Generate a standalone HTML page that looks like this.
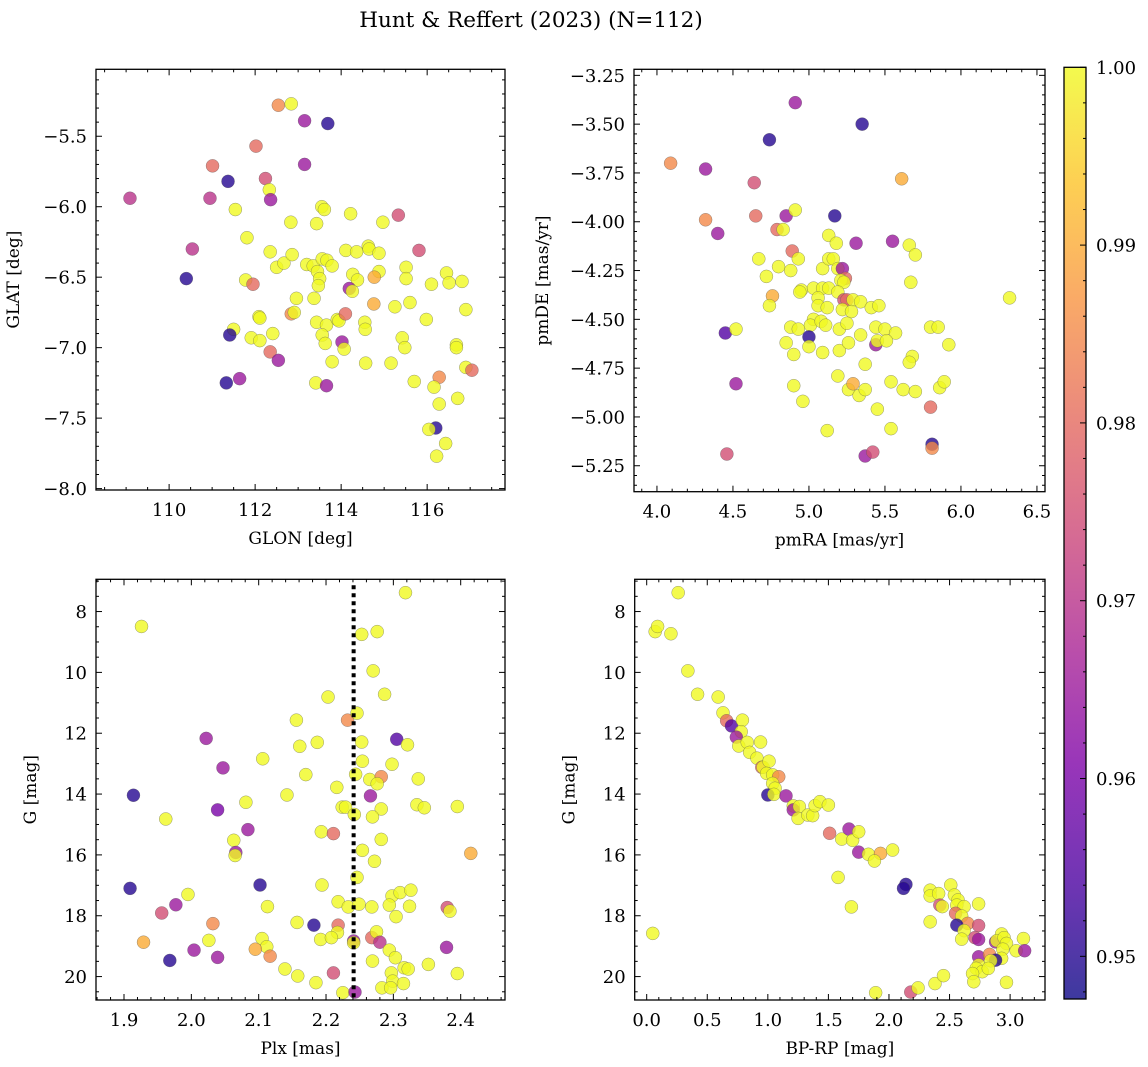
<!DOCTYPE html>
<html><head><meta charset="utf-8">
<style>
html,body{margin:0;padding:0;background:#fff;}
svg{display:block;font-family:"DejaVu Serif","Liberation Serif",serif;}
</style></head>
<body>
<svg id="fig" width="1148" height="1067" viewBox="0 0 1148 1067">
<text x="531" y="27" font-size="21.5" text-anchor="middle">Hunt &amp; Reffert (2023) (N=112)</text>
</svg>
<script>
// ---- Panel 1: GLON vs GLAT ----
const glon = [109.09,110.40,110.54,111.01,111.37,110.95,111.54,112.02,112.24,112.33,112.36,112.54,112.84,113.15,113.69,113.15,111.81,112.35,112.50,112.67,112.86,112.83,113.43,113.55,113.61,114.22,114.97,115.33,115.81,114.11,114.36,114.63,114.65,114.88,113.20,113.35,113.45,113.50,113.47,113.56,113.67,113.79,114.27,114.38,114.88,114.77,115.51,115.51,116.10,116.45,116.51,116.81,111.78,111.95,112.96,113.37,114.19,114.26,114.76,115.25,115.60,116.90,112.84,112.91,112.09,112.11,113.43,113.66,113.91,113.95,114.10,114.55,114.56,115.98,111.50,111.41,111.91,112.11,112.41,113.56,113.63,114.02,114.07,115.42,115.48,116.68,116.68,112.35,112.54,113.79,114.57,115.16,116.90,117.04,111.33,111.64,113.41,113.66,115.70,116.28,116.16,116.28,116.71,116.20,116.04,116.43,116.22];
const glat = [-5.94,-6.51,-6.30,-5.71,-5.82,-5.94,-6.02,-5.57,-5.80,-5.88,-5.95,-5.28,-5.27,-5.39,-5.41,-5.70,-6.22,-6.32,-6.43,-6.40,-6.34,-6.11,-6.12,-6.00,-6.02,-6.05,-6.11,-6.06,-6.31,-6.31,-6.32,-6.28,-6.30,-6.33,-6.41,-6.42,-6.46,-6.51,-6.56,-6.37,-6.38,-6.42,-6.48,-6.52,-6.46,-6.50,-6.43,-6.51,-6.55,-6.47,-6.54,-6.53,-6.52,-6.55,-6.65,-6.65,-6.58,-6.60,-6.69,-6.71,-6.68,-6.73,-6.76,-6.75,-6.78,-6.79,-6.82,-6.84,-6.80,-6.81,-6.76,-6.82,-6.87,-6.80,-6.87,-6.91,-6.93,-6.95,-6.90,-6.91,-6.97,-6.96,-7.01,-6.93,-7.00,-6.98,-7.00,-7.03,-7.09,-7.10,-7.11,-7.11,-7.14,-7.16,-7.25,-7.22,-7.25,-7.27,-7.24,-7.21,-7.28,-7.40,-7.36,-7.57,-7.58,-7.68,-7.77];
const prob1 = [.97,.95,.97,.98,.95,.97,1,.98,.975,1,.965,.985,1,.965,.95,.965,1,1,1,1,1,1,1,1,1,1,1,.975,.975,1,1,1,1,1,1,1,1,1,1,1,1,1,1,1,1,.99,1,1,1,1,1,1,1,.98,1,1,.965,1,.99,1,1,1,.985,1,1,1,1,1,1,1,.98,1,1,1,1,.95,1,1,1,1,1,.965,1,1,1,1,1,.98,.965,1,1,1,1,.98,.95,.965,1,.965,1,.985,1,1,1,.95,1,1,1];

// ---- Panel 2: pmRA vs pmDE ----
const pmra = [4.09,4.32,4.32,4.40,4.64,4.65,4.74,4.91,5.35,4.85,4.91,4.79,4.83,5.17,5.13,5.18,5.31,5.55,5.66,5.70,5.61,4.89,4.93,4.67,4.80,4.88,4.72,5.09,5.13,5.16,5.19,5.22,5.24,5.21,5.23,5.67,6.32,4.95,4.94,5.03,5.09,5.13,5.19,5.06,4.76,4.74,5.06,5.12,5.23,5.25,5.29,5.22,5.28,5.34,5.41,5.46,5.03,5.01,5.08,5.11,4.88,4.93,5.00,5.20,5.25,4.45,4.52,4.85,4.90,5.00,5.09,5.20,5.26,5.34,5.44,5.50,5.57,5.44,5.45,5.51,5.80,5.85,5.92,5.37,5.68,5.66,4.52,4.90,4.96,5.19,5.26,5.29,5.33,5.37,5.54,5.62,5.70,5.86,5.89,5.45,5.80,5.12,5.54,4.46,5.37,5.42,5.81,5.81];
const pmde = [-3.70,-3.73,-3.99,-4.06,-3.80,-3.97,-3.58,-3.39,-3.50,-3.97,-3.94,-4.04,-4.04,-3.97,-4.07,-4.11,-4.11,-4.10,-4.12,-4.17,-3.78,-4.15,-4.19,-4.19,-4.23,-4.25,-4.28,-4.24,-4.19,-4.19,-4.24,-4.24,-4.29,-4.30,-4.31,-4.31,-4.39,-4.35,-4.36,-4.34,-4.34,-4.34,-4.36,-4.39,-4.38,-4.43,-4.43,-4.44,-4.40,-4.40,-4.40,-4.45,-4.46,-4.41,-4.44,-4.43,-4.50,-4.53,-4.51,-4.53,-4.54,-4.55,-4.59,-4.55,-4.52,-4.57,-4.55,-4.62,-4.68,-4.64,-4.67,-4.66,-4.62,-4.58,-4.54,-4.55,-4.57,-4.63,-4.61,-4.61,-4.54,-4.54,-4.63,-4.73,-4.69,-4.72,-4.83,-4.84,-4.92,-4.79,-4.86,-4.83,-4.89,-4.86,-4.82,-4.86,-4.87,-4.85,-4.82,-4.96,-4.95,-5.07,-5.06,-5.19,-5.20,-5.18,-5.14,-5.16];
const prob2 = [.985,.965,.985,.965,.975,.98,.95,.965,.95,.965,1,.98,1,.95,1,1,.965,.965,1,1,.99,.98,1,1,1,1,1,1,1,1,1,.965,.98,1,1,1,1,1,1,1,1,1,1,1,.99,1,1,1,.975,.98,1,1,1,1,1,1,1,1,1,1,1,1,.95,1,1,.955,1,1,1,1,1,1,1,1,1,1,1,.965,1,1,1,1,1,1,1,1,.965,1,1,1,1,.99,1,1,1,1,1,1,1,1,.98,1,1,.975,.965,.975,.95,.985];

// ---- Panel 3: Plx vs G ----
const plx = [1.926,1.914,1.962,1.909,1.956,1.977,1.995,1.929,1.968,2.004,2.022,2.047,2.039,2.084,2.081,2.063,2.066,2.065,2.032,2.026,2.039,2.106,2.102,2.113,2.105,2.112,2.095,2.117,2.142,2.139,2.156,2.161,2.170,2.157,2.158,2.187,2.193,2.194,2.182,2.192,2.185,2.203,2.216,2.211,2.218,2.218,2.217,2.208,2.211,2.225,2.232,2.224,2.229,2.233,2.241,2.241,2.243,2.246,2.253,2.253,2.254,2.244,2.242,2.254,2.246,2.249,2.276,2.270,2.287,2.265,2.282,2.276,2.266,2.282,2.269,2.282,2.272,2.268,2.268,2.275,2.280,2.269,2.283,2.305,2.321,2.298,2.337,2.318,2.335,2.346,2.298,2.310,2.326,2.294,2.324,2.304,2.294,2.303,2.316,2.322,2.297,2.299,2.296,2.315,2.352,2.395,2.380,2.384,2.379,2.395,2.415];
const gmag3 = [8.49,14.04,14.82,17.10,17.91,17.64,17.30,18.87,19.47,19.13,12.17,13.14,14.52,15.17,14.27,15.52,15.92,16.02,18.26,18.81,19.37,12.84,16.99,17.70,18.75,19.02,19.10,19.33,14.03,19.75,11.57,12.43,13.36,18.22,19.98,12.30,15.24,16.99,18.31,18.78,20.20,10.81,13.78,15.30,17.54,18.31,18.55,18.72,19.88,20.53,11.57,14.43,14.43,17.71,18.83,18.89,20.51,11.34,8.75,12.29,12.92,13.35,14.67,15.85,16.74,17.62,8.66,9.95,10.72,13.52,13.43,13.66,14.06,14.49,14.75,15.49,16.21,17.71,18.72,18.53,18.87,19.49,20.37,12.20,12.38,13.02,13.50,7.38,14.35,14.45,17.35,17.24,17.16,17.65,17.69,18.03,19.13,19.38,19.71,19.75,19.88,20.15,20.37,20.23,19.60,14.41,17.73,17.85,19.04,19.90,15.95];
const prob3 = [1,.95,1,.95,.975,.965,1,.99,.95,.965,.965,.965,.96,.965,1,1,.965,1,.985,1,.965,1,.95,1,1,1,.99,.985,1,1,1,1,1,1,1,1,1,1,.95,1,1,1,1,.98,1,.98,1,1,.975,1,.985,1,1,1,.965,1,.965,1,1,1,1,1,1,1,1,1,1,1,1,1,.985,1,.965,1,1,1,1,1,.98,1,.97,1,1,.955,1,1,1,1,1,1,1,1,1,1,1,1,1,1,1,1,1,1,1,1,1,1,.975,1,.965,1,.99];
const plxCut = [2.241];

// ---- Panel 4: BP-RP vs G ----
const bprp = [0.05,0.07,0.09,0.20,0.26,0.34,0.42,0.59,0.63,0.66,0.70,0.79,0.78,0.74,0.76,0.83,0.85,0.94,0.91,0.95,0.96,1.01,0.99,1.04,1.09,1.04,1.06,1.00,1.05,1.15,1.21,1.21,1.26,1.25,1.33,1.37,1.39,1.43,1.50,1.51,1.61,1.67,1.70,1.75,1.75,1.83,1.93,1.88,2.03,1.58,1.69,1.89,2.14,2.12,2.18,2.24,2.38,2.45,2.34,2.34,2.41,2.42,2.44,2.34,2.51,2.54,2.57,2.56,2.62,2.55,2.60,2.65,2.56,2.62,2.74,2.74,2.60,2.71,2.74,2.74,2.83,2.88,2.93,2.89,2.95,2.97,2.94,2.93,2.88,2.84,2.74,2.72,2.77,2.69,2.82,2.70,2.97,3.05,3.11,3.12];
const gmag4 = [18.58,8.66,8.49,8.73,7.38,9.95,10.72,10.81,11.33,11.59,11.76,11.57,11.95,12.13,12.42,12.30,12.63,12.29,12.82,13.12,13.12,12.92,13.32,13.37,13.43,13.65,13.81,14.03,14.01,14.06,14.39,14.52,14.41,14.80,14.69,14.71,14.38,14.25,14.36,15.29,15.48,15.15,15.52,15.24,15.91,15.98,15.95,16.20,15.84,16.74,17.71,20.53,16.97,17.10,20.51,20.37,20.23,19.97,17.16,17.35,17.27,17.65,17.70,18.20,16.99,17.32,17.48,17.65,17.70,17.92,18.01,18.25,18.31,18.49,17.61,18.32,18.77,18.72,18.78,19.35,19.27,18.86,18.60,18.82,18.72,18.91,19.10,19.40,19.46,19.48,19.62,19.73,19.84,19.90,19.73,20.17,20.19,19.15,18.75,19.15];
const prob4 = [1,1,1,1,1,1,1,1,1,.98,.955,1,1,.965,1,1,1,1,1,.98,1,1,1,1,.985,1,1,.95,1,.965,1,.965,1,1,1,1,1,1,1,.98,1,.965,1,1,.965,1,.99,1,1,1,1,1,.95,.95,.975,1,1,1,1,1,1,.975,1,1,1,1,1,1,1,.98,1,.985,.95,1,1,.975,1,.975,.965,.965,.985,.965,1,1,1,1,1,1,.95,1,1,1,1,1,1,1,1,1,1,.965];

// ---- Colorbar ----
const cbTicks = [0.95,0.96,0.97,0.98,0.99,1.00];
const cbMin = 0.9476, cbMax = 1.0;

const NS = "http://www.w3.org/2000/svg";
const svg = document.getElementById('fig');
function mk(tag, attrs, parent){
  const e = document.createElementNS(NS, tag);
  for (const k in attrs) e.setAttribute(k, attrs[k]);
  (parent||svg).appendChild(e);
  return e;
}
const stops = [[13,8,135],[76,2,161],[126,3,168],[169,35,149],[204,71,120],[229,107,93],[248,148,65],[253,195,40],[240,249,33]];
function plasma(t){
  t = Math.max(0, Math.min(1, t));
  const p = t*(stops.length-1), i = Math.min(stops.length-2, Math.floor(p)), f = p - i;
  const a = stops[i], b = stops[i+1];
  return `rgb(${Math.round(a[0]+(b[0]-a[0])*f)},${Math.round(a[1]+(b[1]-a[1])*f)},${Math.round(a[2]+(b[2]-a[2])*f)})`;
}
function fmt(v, d){ return v.toFixed(d).replace('-', '\u2212'); }

function panel(o){
  const g = mk('g', {});
  
  
  const sx = v => o.L + (v - o.x0)/(o.x1 - o.x0)*(o.R - o.L);
  const sy = v => o.T + (v - o.y0)/(o.y1 - o.y0)*(o.B - o.T);
  const clip = mk('clipPath', {id: 'clip-' + o.name}, g);
  mk('rect', {x:o.L, y:o.T, width:o.R-o.L, height:o.B-o.T}, clip);
  const pts = mk('g', {'clip-path': `url(#clip-${o.name})`}, g);
  for (let i = 0; i < o.xs.length; i++){
    const c = mk('circle', {cx:sx(o.xs[i]), cy:sy(o.ys[i]), r:6.5, fill:plasma((o.cs[i]-cbMin)/(cbMax-cbMin)), 'fill-opacity':0.8, stroke:'#555', 'stroke-opacity':0.6, 'stroke-width':0.5}, pts);
    
    
  }
  if (o.vline){
    const l = mk('line', {x1:sx(o.vline[0]), x2:sx(o.vline[0]), y1:o.T+6, y2:o.B, stroke:'#000', 'stroke-width':4, 'stroke-dasharray':'4,4'}, g);
    
    
  }
  const tg = mk('g', {stroke:'#000', 'stroke-width':1}, g);
  const lo = (a,b)=>Math.min(a,b), hi=(a,b)=>Math.max(a,b);
  for (let v = Math.ceil(lo(o.x0,o.x1)/o.xmin)*o.xmin; v <= hi(o.x0,o.x1)+1e-9; v += o.xmin){
    const major = Math.abs(v/o.xmaj - Math.round(v/o.xmaj)) < 1e-6;
    const len = major ? 6 : 3, x = sx(v);
    mk('line', {x1:x, x2:x, y1:o.B, y2:o.B-len}, tg);
    mk('line', {x1:x, x2:x, y1:o.T, y2:o.T+len}, tg);
    if (major){
      const t = mk('text', {x:x, y:o.B+26, 'font-size':18, 'text-anchor':'middle', stroke:'none'}, g);
      t.textContent = fmt(v, o.xd);
      
      
    }
  }
  for (let v = Math.ceil(lo(o.y0,o.y1)/o.ymin)*o.ymin; v <= hi(o.y0,o.y1)+1e-9; v += o.ymin){
    const major = Math.abs(v/o.ymaj - Math.round(v/o.ymaj)) < 1e-6;
    const len = major ? 6 : 3, y = sy(v);
    mk('line', {x1:o.L, x2:o.L+len, y1:y, y2:y}, tg);
    mk('line', {x1:o.R, x2:o.R-len, y1:y, y2:y}, tg);
    if (major){
      const t = mk('text', {x:o.L-9, y:y+6.5, 'font-size':18, 'text-anchor':'end', stroke:'none'}, g);
      t.textContent = fmt(v, o.yd);
      
      
    }
  }
  mk('rect', {x:o.L, y:o.T, width:o.R-o.L, height:o.B-o.T, fill:'none', stroke:'#000', 'stroke-width':1.3}, g);
  const xl = mk('text', {x:(o.L+o.R)/2, y:o.B+54, 'font-size':17, 'text-anchor':'middle'}, g);
  xl.textContent = o.xlabel;
  
  
  const yx = o.L - o.ylabOff, yy = (o.T+o.B)/2;
  const yl = mk('text', {x:yx, y:yy, 'font-size':17, 'text-anchor':'middle', transform:`rotate(-90 ${yx} ${yy})`}, g);
  yl.textContent = o.ylabel;
  
  
}

panel({name:'glon-glat-panel', L:96, R:505, T:69.3, B:490, x0:108.30, x1:117.81, y0:-5.025, y1:-8.01, xs:glon, ys:glat, cs:prob1, xmaj:2, xmin:0.5, ymaj:0.5, ymin:0.1, xd:0, yd:1, xlabel:'GLON [deg]', ylabel:'GLAT [deg]', ylabOff:77});
panel({name:'pmra-pmde-panel', L:634, R:1045, T:69.3, B:491.7, x0:3.849, x1:6.553, y0:-3.219, y1:-5.383, xs:pmra, ys:pmde, cs:prob2, xmaj:0.5, xmin:0.1, ymaj:0.25, ymin:0.05, xd:1, yd:2, xlabel:'pmRA [mas/yr]', ylabel:'pmDE [mas/yr]', ylabOff:86});
panel({name:'plx-g-panel', L:96, R:505, T:579.3, B:1000, x0:1.8584, x1:2.4658, y0:6.94, y1:20.77, xs:plx, ys:gmag3, cs:prob3, xmaj:0.1, xmin:0.02, ymaj:2, ymin:0.5, xd:1, yd:0, xlabel:'Plx [mas]', ylabel:'G [mag]', ylabOff:60, vline:plxCut});
panel({name:'bprp-g-panel', L:634.7, R:1045, T:579.3, B:1000, x0:-0.099, x1:3.288, y0:6.94, y1:20.77, xs:bprp, ys:gmag4, cs:prob4, xmaj:0.5, xmin:0.1, ymaj:2, ymin:0.5, xd:1, yd:0, xlabel:'BP-RP [mag]', ylabel:'G [mag]', ylabOff:60});

(function(){
  const L=1064, R=1086, T=67.3, B=999;
  const g = mk('g', {});
  
  
  const defs = mk('defs', {}, g);
  const lg = mk('linearGradient', {id:'cbgrad', x1:0, y1:1, x2:0, y2:0}, defs);
  for (let i = 0; i <= 16; i++){
    mk('stop', {offset:i/16, 'stop-color':plasma(i/16), 'stop-opacity':0.8}, lg);
  }
  mk('rect', {x:L, y:T, width:R-L, height:B-T, fill:'url(#cbgrad)', stroke:'#000', 'stroke-width':1.3}, g);
  const sy = v => B - (v - cbMin)/(cbMax - cbMin)*(B - T);
  for (let v = 0.948; v <= 1.0001; v += 0.002){
    const major = Math.abs(v*100 - Math.round(v*100)) < 1e-6;
    const y = sy(v), len = major ? 6 : 3;
    mk('line', {x1:R, x2:R-len, y1:y, y2:y, stroke:'#000', 'stroke-width':1}, g);
  }
  for (const v of cbTicks){
    const t = mk('text', {x:R+10, y:sy(v)+6.5, 'font-size':18}, g);
    t.textContent = v.toFixed(2);
    
    
  }
})();
</script>
</body></html>
